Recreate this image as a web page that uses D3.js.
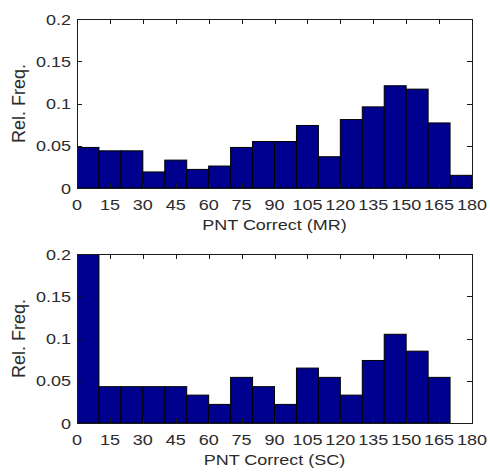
<!DOCTYPE html>
<html>
<head>
<meta charset="utf-8">
<script src="https://cdn.jsdelivr.net/npm/d3@7/dist/d3.min.js"></script>
<style>
  html, body { margin: 0; padding: 0; background: #ffffff; }
  svg { display: block; }
  text { font-family: "Liberation Sans", Arial, Helvetica, sans-serif; fill: #2b2b2b; }
</style>
</head>
<body>
<svg id="chart" width="490" height="472"></svg>
<script>
// Histogram bins (left edge of each 10-unit bin)
const binStarts = [0, 10, 20, 30, 40, 50, 60, 70, 80, 90, 100, 110, 120, 130, 140, 150, 160, 170];
const binWidth = 10;

// Relative frequency per bin, MR group
const mrFreq = [0.048, 0.044, 0.044, 0.019, 0.033, 0.022, 0.026, 0.048, 0.055, 0.055,
                0.074, 0.037, 0.081, 0.096, 0.121, 0.117, 0.077, 0.015];

// Relative frequency per bin, SC group
const scFreq = [0.200, 0.043, 0.043, 0.043, 0.043, 0.033, 0.022, 0.054, 0.043, 0.022,
                0.065, 0.054, 0.033, 0.074, 0.105, 0.085, 0.054, 0];

const xTicks = [0, 15, 30, 45, 60, 75, 90, 105, 120, 135, 150, 165, 180];
const yTicks = [0, 0.05, 0.1, 0.15, 0.2];
const yTickLabels = ["0", "0.05", "0.1", "0.15", "0.2"];

const panels = [
  { values: mrFreq, xLabel: "PNT Correct (MR)", top: 19, bottom: 188 },
  { values: scFreq, xLabel: "PNT Correct (SC)", top: 254, bottom: 423 }
];

const svg = d3.select("#chart");
const left = 77, right = 472;
const tickLen = 5;
const stretch = 1.2;

panels.forEach((p, i) => {
  const x = d3.scaleLinear().domain([0, 180]).range([left, right]);
  const y = d3.scaleLinear().domain([0, 0.2]).range([p.bottom, p.top]);
  const g = svg.append("g");

  const clipId = "clip" + i;
  svg.append("clipPath").attr("id", clipId)
    .append("rect")
    .attr("x", left).attr("y", p.top)
    .attr("width", right - left).attr("height", p.bottom - p.top);

  // bars
  g.append("g").attr("clip-path", `url(#${clipId})`)
    .selectAll("rect")
    .data(binStarts.map((b, k) => ({ b, v: p.values[k] })).filter(d => d.v > 0))
    .join("rect")
    .attr("x", d => x(d.b))
    .attr("width", d => x(d.b + binWidth) - x(d.b))
    .attr("y", d => y(d.v))
    .attr("height", d => y(0) - y(d.v))
    .attr("fill", "#00008f")
    .attr("stroke", "#000000")
    .attr("stroke-width", 1);

  // inward tick marks on all four sides
  const ticks = g.append("g").attr("stroke", "#1a1a1a").attr("stroke-width", 1);
  xTicks.forEach(t => {
    const xx = Math.round(x(t)) + 0.5;
    ticks.append("line").attr("x1", xx).attr("x2", xx)
      .attr("y1", p.bottom).attr("y2", p.bottom - tickLen);
    ticks.append("line").attr("x1", xx).attr("x2", xx)
      .attr("y1", p.top).attr("y2", p.top + tickLen);
  });
  yTicks.forEach(t => {
    const yy = Math.round(y(t)) + 0.5;
    ticks.append("line").attr("x1", left).attr("x2", left + tickLen)
      .attr("y1", yy).attr("y2", yy);
    ticks.append("line").attr("x1", right).attr("x2", right - tickLen)
      .attr("y1", yy).attr("y2", yy);
  });

  // axes box
  g.append("rect")
    .attr("x", left + 0.5).attr("y", p.top + 0.5)
    .attr("width", right - left).attr("height", p.bottom - p.top)
    .attr("fill", "none").attr("stroke", "#1a1a1a").attr("stroke-width", 1);

  // x tick labels
  g.append("g").selectAll("text")
    .data(xTicks)
    .join("text")
    .attr("transform", d => `translate(${x(d)},${p.bottom + 21.5}) scale(${stretch},1)`)
    .attr("text-anchor", "middle")
    .attr("font-size", 15)
    .text(d => d);

  // y tick labels
  g.append("g").selectAll("text")
    .data(yTicks)
    .join("text")
    .attr("transform", d => `translate(71,${y(d) + 5.5}) scale(${stretch},1)`)
    .attr("text-anchor", "end")
    .attr("font-size", 15)
    .text((d, k) => yTickLabels[k]);

  // axis titles
  g.append("text")
    .attr("transform", `translate(${(left + right) / 2},${p.bottom + 41.5}) scale(${stretch},1)`)
    .attr("text-anchor", "middle")
    .attr("font-size", 15)
    .text(p.xLabel);

  g.append("text")
    .attr("transform", `translate(25,${(p.top + p.bottom) / 2}) rotate(-90)`)
    .attr("text-anchor", "middle")
    .attr("font-size", 18)
    .text("Rel. Freq.");
});
</script>
</body>
</html>
